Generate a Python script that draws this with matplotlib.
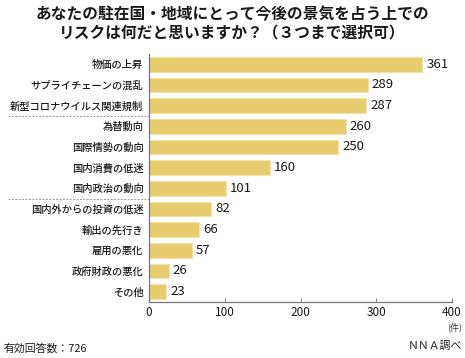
import matplotlib.pyplot as plt
import matplotlib.transforms as mtransforms

plt.rcParams['font.family'] = ['Noto Sans CJK JP', 'DejaVu Sans']

categories = ['物価の上昇', 'サプライチェーンの混乱', '新型コロナウイルス関連規制',
              '為替動向', '国際情勢の動向', '国内消費の低迷', '国内政治の動向',
              '国内外からの投資の低迷', '輸出の先行き', '雇用の悪化',
              '政府財政の悪化', 'その他']
values = [361, 289, 287, 260, 250, 160, 101, 82, 66, 57, 26, 23]
separators = [2.5, 6.5]
xticks = [0, 100, 200, 300, 400]

bar_color = '#E8CD6E'

fig = plt.figure(figsize=(4.65, 3.58), dpi=100)
ax = fig.add_axes([149 / 465, 1 - 302 / 358, 303 / 465, 248 / 358])

n = len(categories)
ypos = list(range(n))
ax.barh(ypos, values, height=0.72, color=bar_color, edgecolor='#F3E2A6', linewidth=0.8)
ax.set_ylim(n - 0.5, -0.5)
ax.set_xlim(0, 400)

ax.set_yticks(ypos)
ax.set_yticklabels(categories, fontsize=7.4, fontweight='medium', color='#1a1a1a')
ax.set_xticks(xticks)
ax.set_xticklabels([str(t) for t in xticks], fontsize=8.5, color='#1a1a1a')
ax.tick_params(axis='y', length=0, pad=4)
ax.tick_params(axis='x', direction='in', length=3, color='#888888', pad=3)

for s in ['top', 'right']:
    ax.spines[s].set_visible(False)
for s in ['left', 'bottom']:
    ax.spines[s].set_color('#777777')
    ax.spines[s].set_linewidth(0.9)

for y, v in zip(ypos, values):
    ax.text(v + 5, y, str(v), va='center', ha='left', fontsize=9.5, color='#1a1a1a')

trans = mtransforms.blended_transform_factory(ax.transAxes, ax.transData)
for s in separators:
    ax.plot([-0.465, 0], [s, s], transform=trans, clip_on=False,
            color='#999999', linestyle=(0, (2, 1.5)), linewidth=0.7)

fig.text(0.5, 1 - 14 / 358, 'あなたの駐在国・地域にとって今後の景気を占う上での',
         ha='center', va='center', fontsize=11.3, fontweight='bold', color='#1a1a1a')
fig.text(0.5, 1 - 33 / 358, 'リスクは何だと思いますか？（３つまで選択可）',
         ha='center', va='center', fontsize=11.3, fontweight='bold', color='#1a1a1a')
fig.text(462 / 465, 1 - 327 / 358, '(件)', ha='right', va='center', fontsize=6.5, color='#333333')
fig.text(4 / 465, 1 - 348 / 358, '有効回答数：726', ha='left', va='center', fontsize=7.8, color='#1a1a1a')
fig.text(462 / 465, 1 - 346 / 358, 'ＮＮＡ調べ', ha='right', va='center', fontsize=7.8, color='#1a1a1a')

fig.savefig('out.png', dpi=100)
